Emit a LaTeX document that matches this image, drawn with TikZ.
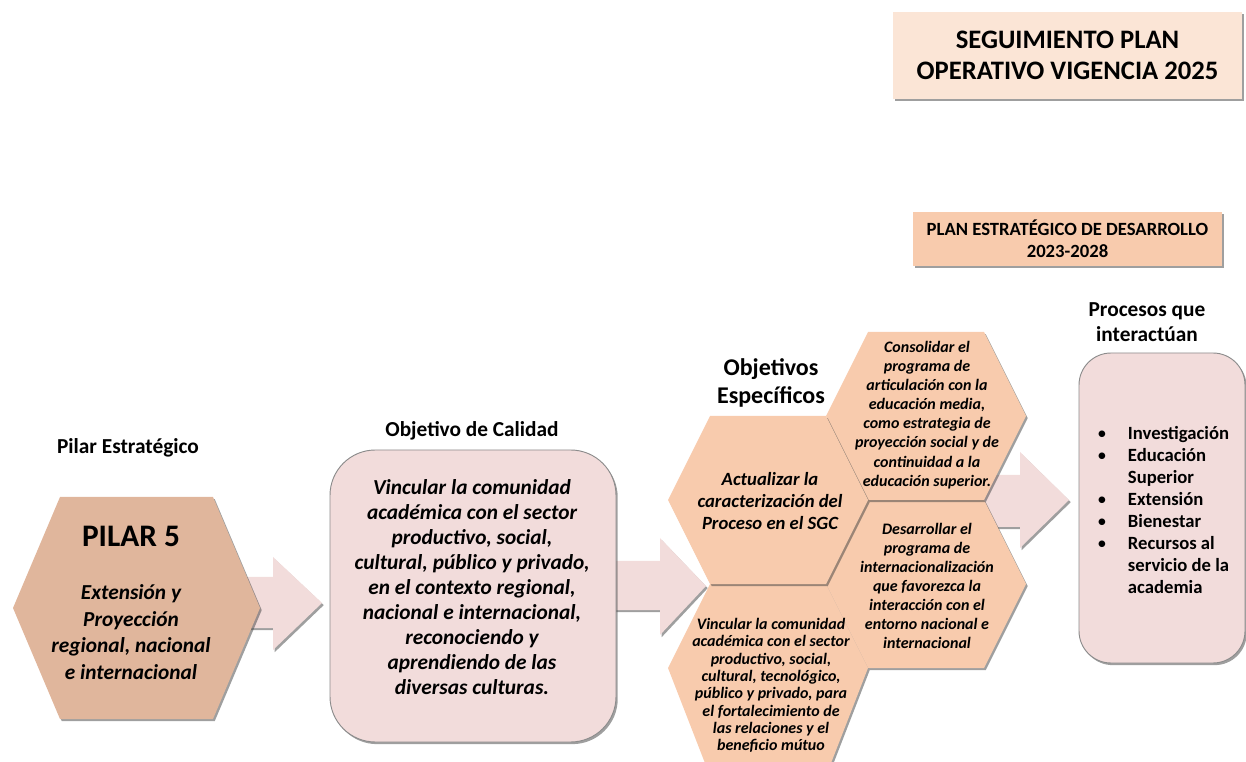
\documentclass[tikz,border=0pt]{standalone}
\usepackage{fontspec}
\setmainfont{Carlito}
\usetikzlibrary{shadows}
\definecolor{pinkbox}{RGB}{242,220,219}
\definecolor{peach}{RGB}{248,203,173}
\definecolor{lightpeach}{RGB}{251,229,214}
\definecolor{tanhex}{RGB}{224,182,156}
\newcommand\fsz[2]{\fontsize{#1}{#2}\selectfont}
\newcommand\hexfig[8]{% name, cx, cy, W, a, Htop, Hbot, fill
  \path[shadedshape, fill=#8, shift={(#2,#3)}] (-#4,0) -- (-#5,-#6) -- (#5,-#6) -- (#4,0) -- (#5,#7) -- (-#5,#7) -- cycle;
  \coordinate (#1) at (#2,#3);}
\tikzset{
  shadedshape/.style={drop shadow={shadow xshift=1.3pt, shadow yshift=-1.6pt, opacity=0.5, fill=black!75}},
  blockarrow/.style={fill=pinkbox, shadedshape},
  label/.style={font=\bfseries\fsz{16}{19}, align=center, inner sep=0pt},
  roundbox/.style={fill=pinkbox, draw=black!45, line width=0.7pt, shadedshape, inner sep=0pt},
  hextext/.style={font=\bfseries\itshape, align=center, inner sep=0pt},
  headbox/.style={shadedshape, inner sep=0pt, align=center, font=\bfseries}
}
\begin{document}
\begin{tikzpicture}[x=0.75pt, y=-0.75pt]
\useasboundingbox (0,0) rectangle (1246,762);

% header boxes
\node[headbox, fill=lightpeach, minimum width=261.75pt, minimum height=65.25pt, font=\bfseries\fsz{20}{23.5}] (title) at (1067.5,55.5) {SEGUIMIENTO PLAN\\OPERATIVO VIGENCIA 2025};
\node[headbox, fill=peach, minimum width=231.75pt, minimum height=40.5pt, font=\bfseries\fsz{14}{16.5}] (plan) at (1067.5,239) {PLAN ESTRATÉGICO DE DESARROLLO\\2023-2028};

% labels
\node[label] (lpilar) at (128,448) {Pilar Estratégico};
\node[label] (lcal) at (472,431) {Objetivo de Calidad};
\node[label, font=\bfseries\fsz{18}{21}] (lesp) at (771,383) {Objetivos\\Específicos};
\node[label] (lproc) at (1147,322) {Procesos que\\interactúan};

% block arrows
\path[blockarrow] (225,577) -- (273,577) -- (273,557) -- (322,603) -- (273,650) -- (273,628) -- (225,628) -- cycle;
\path[blockarrow] (600,561) -- (660,561) -- (660,538) -- (706,586) -- (660,635) -- (660,610) -- (600,610) -- cycle;
\path[blockarrow] (975,475) -- (1020,475) -- (1020,452) -- (1069,500) -- (1020,548) -- (1020,527) -- (975,527) -- cycle;

% pilar hexagon
\hexfig{pilar}{136.5}{608}{123.5}{76.5}{111}{111}{tanhex}
\node[hextext, font=\bfseries\fsz{23.5}{28}] (p5) at (131,536) {PILAR 5};
\node[hextext, font=\bfseries\itshape\fsz{16}{20}] (ptext) at (131,632) {Extensión y\\Proyección\\regional, nacional\\e internacional};

% objetivo de calidad box
\node[roundbox, rounded corners=34pt, minimum width=214.5pt, minimum height=219pt] (cal) at (473,596) {};
\node[hextext, font=\bfseries\itshape\fsz{16}{18.8}] (caltext) at (472,587) {Vincular la comunidad\\académica con el sector\\productivo, social,\\cultural, público y privado,\\en el contexto regional,\\nacional e internacional,\\reconociendo y\\aprendiendo de las\\diversas culturas.};

% objective hexagons
\hexfig{hexD}{768}{668}{100}{58}{84}{108}{peach}
\hexfig{hexC}{926}{584}{100}{58}{84}{84}{peach}
\hexfig{hexB}{926}{416}{100}{58}{84}{84}{peach}
\hexfig{hexA}{768}{500}{100}{58}{84}{84}{peach}

\node[hextext, font=\bfseries\itshape\fsz{14}{16.5}] (ta) at (770,501) {Actualizar la\\caracterización del\\Proceso en el SGC};
\node[hextext, font=\bfseries\itshape\fsz{12}{14.3}] (tb) at (927,415) {Consolidar el\\programa de\\articulación con la\\educación media,\\como estrategia de\\proyección social y de\\continuidad a la\\educación superior.};
\node[hextext, font=\bfseries\itshape\fsz{12}{14.3}] (tc) at (927,586) {Desarrollar el\\programa de\\internacionalización\\que favorezca la\\interacción con el\\entorno nacional e\\internacional};
\node[hextext, font=\bfseries\itshape\fsz{12}{13}] (td) at (771,685.5) {Vincular la comunidad\\académica con el sector\\productivo, social,\\cultural, tecnológico,\\público y privado, para\\el fortalecimiento de\\las relaciones y el\\beneficio mútuo};

% processes box
\node[roundbox, rounded corners=24pt, minimum width=124.5pt, minimum height=232.5pt] (proc) at (1162,508) {};
\node[anchor=west, align=left, inner sep=0pt, font=\bfseries\fsz{14}{16.5}] (plist) at (1097,510) {%
\makebox[23pt][l]{\mdseries\textbullet}Investigación\\
\makebox[23pt][l]{\mdseries\textbullet}Educación\\
\hspace*{23pt}Superior\\
\makebox[23pt][l]{\mdseries\textbullet}Extensión\\
\makebox[23pt][l]{\mdseries\textbullet}Bienestar\\
\makebox[23pt][l]{\mdseries\textbullet}Recursos al\\
\hspace*{23pt}servicio de la\\
\hspace*{23pt}academia};
\end{tikzpicture}
\end{document}
